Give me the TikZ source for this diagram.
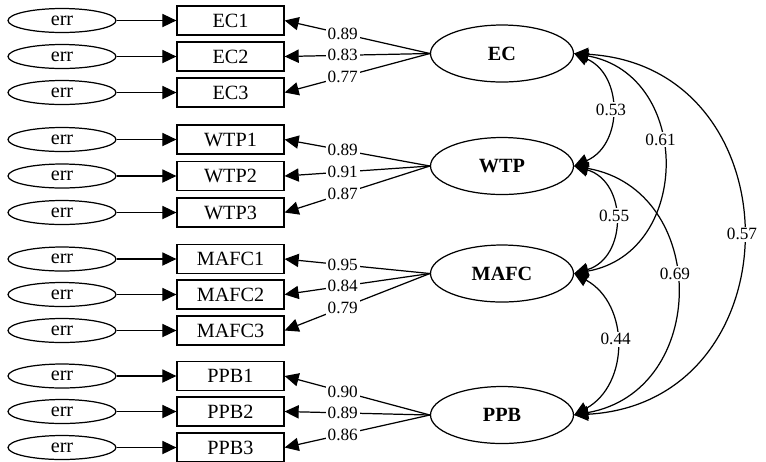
\documentclass[tikz,border=0pt]{standalone}
\usepackage{fontspec}
\setmainfont{Liberation Serif}
\usetikzlibrary{arrows.meta,shapes.geometric}

\begin{document}
\begin{tikzpicture}[x=0.02cm,y=-0.02cm,line width=0.7pt,
    every node/.style={font=\fontsize{11.5}{13}\selectfont},
    err/.style={ellipse,draw,minimum width=2.16cm,minimum height=0.48cm,inner sep=0pt},
    item/.style={rectangle,draw,minimum width=2.14cm,minimum height=0.58cm,inner sep=0pt},
    latent/.style={ellipse,draw,minimum width=2.86cm,minimum height=1.14cm,inner sep=0pt,
        font=\fontsize{11.5}{13}\selectfont\bfseries},
    arr/.style={-{Triangle[length=8pt,width=7.5pt]}},
    cov/.style={{Triangle[length=8pt,width=7.5pt]}-{Triangle[length=8pt,width=7.5pt]}},
    coef/.style={fill=white,inner sep=1pt,font=\fontsize{9.8}{11}\selectfont}]
    \useasboundingbox (0,0) rectangle (766,461);

    % latent variables
    \node[latent] (EC) at (502,53.5) {EC};
    \node[latent] (WTP) at (502,166) {WTP};
    \node[latent] (MAFC) at (502,273.5) {MAFC};
    \node[latent] (PPB) at (502,415) {PPB};

    % observed items
    \node[item] (EC1) at (230.5,20.5) {EC1};
    \node[item] (EC2) at (230.5,56.5) {EC2};
    \node[item] (EC3) at (230.5,92.5) {EC3};
    \node[item] (WTP1) at (230.5,139.5) {WTP1};
    \node[item] (WTP2) at (230.5,176) {WTP2};
    \node[item] (WTP3) at (230.5,212.5) {WTP3};
    \node[item] (MAFC1) at (230.5,259) {MAFC1};
    \node[item] (MAFC2) at (230.5,294.5) {MAFC2};
    \node[item] (MAFC3) at (230.5,330.5) {MAFC3};
    \node[item] (PPB1) at (230.5,376) {PPB1};
    \node[item] (PPB2) at (230.5,411.5) {PPB2};
    \node[item] (PPB3) at (230.5,447.5) {PPB3};

    % error terms
    \node[err] (e1) at (62,20.5) {err};
    \node[err] (e2) at (62,56.5) {err};
    \node[err] (e3) at (62,92.5) {err};
    \node[err] (e4) at (62,139.5) {err};
    \node[err] (e5) at (62,176) {err};
    \node[err] (e6) at (62,212.5) {err};
    \node[err] (e7) at (62,259) {err};
    \node[err] (e8) at (62,294.5) {err};
    \node[err] (e9) at (62,330.5) {err};
    \node[err] (e10) at (62,376) {err};
    \node[err] (e11) at (62,411.5) {err};
    \node[err] (e12) at (62,447.5) {err};

    \draw[arr] (e1) -- (EC1);
    \draw[arr] (e2) -- (EC2);
    \draw[arr] (e3) -- (EC3);
    \draw[arr] (e4) -- (WTP1);
    \draw[arr] (e5) -- (WTP2);
    \draw[arr] (e6) -- (WTP3);
    \draw[arr] (e7) -- (MAFC1);
    \draw[arr] (e8) -- (MAFC2);
    \draw[arr] (e9) -- (MAFC3);
    \draw[arr] (e10) -- (PPB1);
    \draw[arr] (e11) -- (PPB2);
    \draw[arr] (e12) -- (PPB3);

    % loadings
    \draw[arr] (EC.west) -- node[coef,pos=0.6] {0.89} (EC1.east);
    \draw[arr] (EC.west) -- node[coef,pos=0.6] {0.83} (EC2.east);
    \draw[arr] (EC.west) -- node[coef,pos=0.6] {0.77} (EC3.east);
    \draw[arr] (WTP.west) -- node[coef,pos=0.6] {0.89} (WTP1.east);
    \draw[arr] (WTP.west) -- node[coef,pos=0.6] {0.91} (WTP2.east);
    \draw[arr] (WTP.west) -- node[coef,pos=0.6] {0.87} (WTP3.east);
    \draw[arr] (MAFC.west) -- node[coef,pos=0.6] {0.95} (MAFC1.east);
    \draw[arr] (MAFC.west) -- node[coef,pos=0.6] {0.84} (MAFC2.east);
    \draw[arr] (MAFC.west) -- node[coef,pos=0.6] {0.79} (MAFC3.east);
    \draw[arr] (PPB.west) -- node[coef,pos=0.6] {0.90} (PPB1.east);
    \draw[arr] (PPB.west) -- node[coef,pos=0.6] {0.89} (PPB2.east);
    \draw[arr] (PPB.west) -- node[coef,pos=0.6] {0.86} (PPB3.east);

    % correlations
    \draw[cov] (EC.east) to[bend left=66.7,looseness=1.22] node[coef,pos=0.5] {0.53} (WTP.east);
    \draw[cov] (EC.east) to[bend left=80,looseness=1.4] node[coef,pos=0.42] {0.61} (MAFC.east);
    \draw[cov] (EC.east) to[bend left=86.8,looseness=1.59] node[coef,pos=0.5] {0.57} (PPB.east);
    \draw[cov] (WTP.east) to[bend left=73.6,looseness=1.33] node[coef,pos=0.47] {0.55} (MAFC.east);
    \draw[cov] (WTP.east) to[bend left=80,looseness=1.42] node[coef,pos=0.45] {0.69} (PPB.east);
    \draw[cov] (MAFC.east) to[bend left=61.2,looseness=1.15] node[coef,pos=0.47] {0.44} (PPB.east);
\end{tikzpicture}
\end{document}
